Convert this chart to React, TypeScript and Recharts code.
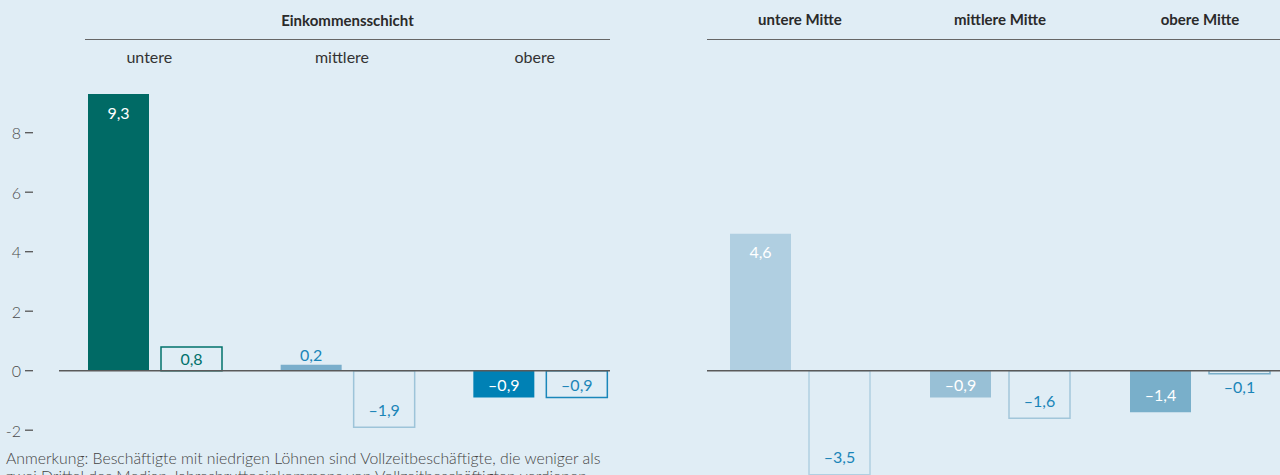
import React from 'react';
import { BarChart, Bar, XAxis, YAxis, Cell, LabelList, ReferenceLine } from 'recharts';

// left panel: Einkommensschicht
const leftCategories = ['untere', 'mittlere', 'obere'];
const leftFilled = [9.3, 0.2, -0.9];
const leftOutlined = [0.8, -1.9, -0.9];

// right panel: Mitte groups
const rightCategories = ['untere Mitte', 'mittlere Mitte', 'obere Mitte'];
const rightFilled = [4.6, -0.9, -1.4];
const rightOutlined = [-3.5, -1.6, -0.1];

const yTicks = [-2, 0, 2, 4, 6, 8];

const BG = '#e0edf5';
const FONT = 'Lato, "Open Sans", sans-serif';
const LABEL_BLUE = '#1a85b8';

const leftFill = ['#006a65', '#7aaecb', '#0081b5'];
const leftStroke = ['#00716b', '#9dc4d9', '#1a87ba'];
const leftLabelA = ['#ffffff', LABEL_BLUE, '#ffffff'];
const leftLabelB = ['#00716b', LABEL_BLUE, LABEL_BLUE];

const rightFill = ['#b0cfe1', '#98c0d6', '#79afca'];
const rightStroke = ['#b0cfe1', '#a2c6da', '#79afca'];
const rightLabelA = ['#ffffff', '#ffffff', '#ffffff'];
const rightLabelB = [LABEL_BLUE, LABEL_BLUE, LABEL_BLUE];

const leftData = leftCategories.map((name, i) => ({ name, a: leftFilled[i], b: leftOutlined[i] }));
const rightData = rightCategories.map((name, i) => ({ name, a: rightFilled[i], b: rightOutlined[i] }));

const fmt = (v: number) => (v < 0 ? '\u2013' : '') + Math.abs(v).toFixed(1).replace('.', ',');

const makeLabel = (colors: string[]) => (props: any) => {
  const { x, y, width, height, value, index } = props;
  const v = Number(value);
  const top = Math.min(y, y + height);
  const bot = Math.max(y, y + height);
  const h = bot - top;
  let cy: number;
  let fill = colors[index] ?? LABEL_BLUE;
  if (h < 14) {
    cy = v >= 0 ? top - 10 : bot + 13;
    fill = LABEL_BLUE;
  } else {
    const off = Math.min(18, h / 2);
    cy = v >= 0 ? top + off : bot - off;
  }
  return (
    <text x={x + width / 2} y={cy} textAnchor="middle" dominantBaseline="central"
      fill={fill} fontSize={16} fontFamily={FONT}>
      {fmt(v)}
    </text>
  );
};

const YTick = (props: any) => {
  const { x, y, payload } = props;
  return (
    <g>
      <text x={x - 38} y={y} textAnchor="end" dominantBaseline="central"
        fill="#4a4a4a" fontSize={16} fontWeight={300} fontFamily={FONT}>
        {payload.value}
      </text>
      <line x1={x - 34} x2={x - 26} y1={y} y2={y} stroke="#555" strokeWidth={1.3} />
    </g>
  );
};

const SubTick = (props: any) => {
  const { x, y, payload } = props;
  return (
    <text x={x - 6} y={y} textAnchor="middle" fill="#333" fontSize={16} fontFamily={FONT}>
      {payload.value}
    </text>
  );
};

const HeadTick = (props: any) => {
  const { x, y, payload } = props;
  return (
    <text x={x} y={y} textAnchor="middle" fill="#2a2a2a" fontSize={15} fontWeight={700} fontFamily={FONT}>
      {payload.value}
    </text>
  );
};

const headerLine = (left: number, width: number): React.CSSProperties => ({
  position: 'absolute', left, top: 0, width, height: 39,
  borderBottom: '1.5px solid #666', boxSizing: 'content-box',
});

const App: React.FC = () => {
  return (
    <div style={{ position: 'absolute', left: 0, top: 0, width: 1280, height: 475, overflow: 'hidden', background: BG, fontFamily: FONT }}>
      <div style={{ ...headerLine(85, 525), textAlign: 'center', lineHeight: '40px', fontSize: 15, fontWeight: 700, color: '#2a2a2a' }}>
        Einkommensschicht
      </div>
      <div style={headerLine(707, 580)} />

      <div style={{ position: 'absolute', left: 0, top: 0 }}>
        <BarChart width={640} height={500} data={leftData} barSize={61} barGap={12}
          margin={{ top: 33.2, right: 30, bottom: 10.3, left: 0 }}>
          <XAxis dataKey="name" orientation="top" height={40} axisLine={false} tickLine={false}
            tickSize={0} tickMargin={10} tick={<SubTick />} padding={{ left: 0, right: -27 }} interval={0} />
          <YAxis width={59} domain={[-4, 10]} ticks={yTicks} axisLine={false} tickLine={false}
            tickSize={0} tickMargin={0} tick={<YTick />} />
          <ReferenceLine y={0} stroke="#5a5a5a" strokeWidth={1.5} />
          <Bar dataKey="a" isAnimationActive={false}>
            {leftData.map((_, i) => <Cell key={i} fill={leftFill[i]} />)}
            <LabelList dataKey="a" content={makeLabel(leftLabelA)} />
          </Bar>
          <Bar dataKey="b" isAnimationActive={false}>
            {leftData.map((_, i) => <Cell key={i} fill="none" stroke={leftStroke[i]} strokeWidth={1.5} />)}
            <LabelList dataKey="b" content={makeLabel(leftLabelB)} />
          </Bar>
        </BarChart>
      </div>

      <div style={{ position: 'absolute', left: 707, top: 0 }}>
        <BarChart width={600} height={500} data={rightData} barSize={61} barGap={18}
          margin={{ top: 33.2, right: 0, bottom: 10.3, left: 0 }}>
          <XAxis dataKey="name" orientation="top" height={40} axisLine={false} tickLine={false}
            tickSize={0} tickMargin={48} tick={<HeadTick />} padding={{ left: -7, right: 7 }} interval={0} />
          <YAxis hide domain={[-4, 10]} />
          <ReferenceLine y={0} stroke="#5a5a5a" strokeWidth={1.5} />
          <Bar dataKey="a" isAnimationActive={false}>
            {rightData.map((_, i) => <Cell key={i} fill={rightFill[i]} />)}
            <LabelList dataKey="a" content={makeLabel(rightLabelA)} />
          </Bar>
          <Bar dataKey="b" isAnimationActive={false}>
            {rightData.map((_, i) => <Cell key={i} fill="none" stroke={rightStroke[i]} strokeWidth={1.5} />)}
            <LabelList dataKey="b" content={makeLabel(rightLabelB)} />
          </Bar>
        </BarChart>
      </div>

      <div style={{ position: 'absolute', left: 6, top: 449, fontSize: 15.8, fontWeight: 300, lineHeight: '18px', color: '#444', whiteSpace: 'nowrap' }}>
        Anmerkung: Beschäftigte mit niedrigen Löhnen sind Vollzeitbeschäftigte, die weniger als<br />
        zwei Drittel des Median-Jahresbruttoeinkommens von Vollzeitbeschäftigten verdienen.
      </div>
    </div>
  );
};

export default App;
